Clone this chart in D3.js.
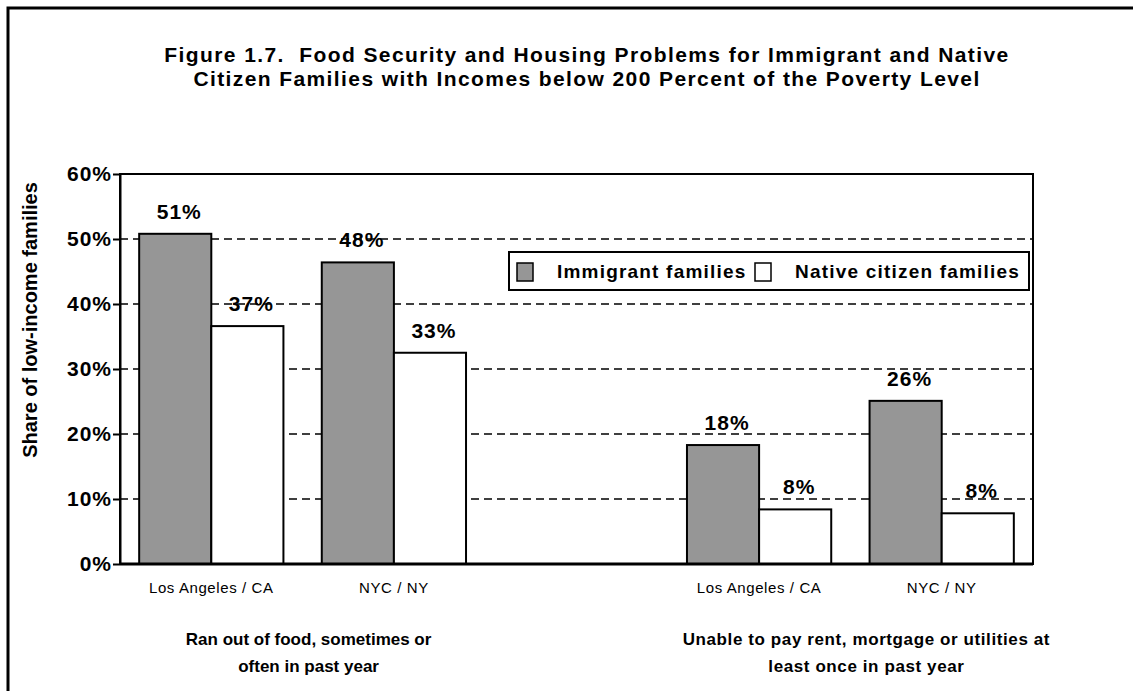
<!DOCTYPE html>
<html>
<head>
<meta charset="utf-8">
<script src="https://cdn.jsdelivr.net/npm/d3@7"></script>
<style>
  body { margin: 0; background: #fff; }
  text { font-family: Arial, "Liberation Sans", sans-serif; fill: #000; }
</style>
</head>
<body>
<svg width="1133" height="691"></svg>
<script>
// data
const cities = ["Los Angeles / CA", "NYC / NY", "", "Los Angeles / CA", "NYC / NY"]
const immigrant = [50.8, 46.4, null, 18.3, 25.1]
const native = [36.6, 32.5, null, 8.4, 7.8]
const immigrantLabels = ["51%", "48%", null, "18%", "26%"]
const nativeLabels = ["37%", "33%", null, "8%", "8%"]
const problems = [
  ["Ran out of food, sometimes or", "often in past year"],
  ["Unable to pay rent, mortgage or utilities at", "least once in past year"]
]
const series = ["Immigrant families", "Native citizen families"]
const colors = ["#969696", "#ffffff"]
const yTicks = [0, 10, 20, 30, 40, 50, 60]
const title = [
  "Figure 1.7.  Food Security and Housing Problems for Immigrant and Native",
  "Citizen Families with Incomes below 200 Percent of the Poverty Level"
]

const svg = d3.select("svg")

const plot = { left: 120, right: 1033, top: 174, bottom: 564 }

// outer frame (only top + left visible)
svg.append("rect")
  .attr("x", 8).attr("y", 8)
  .attr("width", 1200).attr("height", 800)
  .attr("fill", "none")
  .attr("stroke", "#000")
  .attr("stroke-width", 3)

svg.append("g")
  .selectAll("text")
  .data(title)
  .enter()
  .append("text")
  .attr("x", 587)
  .attr("y", (d, i) => 62 + i * 24)
  .attr("text-anchor", "middle")
  .attr("font-weight", "bold")
  .attr("font-size", 21)
  .attr("letter-spacing", 1.4)
  .style("white-space", "pre")
  .text(d => d)

const scaleX = d3.scaleBand()
  .domain(d3.range(cities.length))
  .range([plot.left, plot.right])
  .paddingInner(0.21)
  .paddingOuter(0.105)

const scaleSub = d3.scaleBand()
  .domain([0, 1])
  .range([0, scaleX.bandwidth()])

const scaleY = d3.scaleLinear()
  .domain([0, 60])
  .range([plot.bottom, plot.top])

// dashed grid
svg.append("g")
  .selectAll("line")
  .data(yTicks.filter(t => t > 0 && t < 60))
  .enter()
  .append("line")
  .attr("x1", plot.left).attr("x2", plot.right)
  .attr("y1", d => scaleY(d)).attr("y2", d => scaleY(d))
  .attr("stroke", "#000")
  .attr("stroke-width", 1.5)
  .attr("stroke-dasharray", "8,5")

// plot frame
svg.append("rect")
  .attr("x", plot.left).attr("y", plot.top)
  .attr("width", plot.right - plot.left)
  .attr("height", plot.bottom - plot.top)
  .attr("fill", "none")
  .attr("stroke", "#000")
  .attr("stroke-width", 2)

// y axis
const axisY = d3.axisLeft(scaleY)
  .tickValues(yTicks)
  .tickSizeInner(7)
  .tickSizeOuter(0)
  .tickPadding(1)
  .tickFormat(d => d + "%")

const axisYGroup = svg.append("g")
  .attr("transform", `translate(${plot.left}, 0)`)
  .call(axisY)

axisYGroup.select(".domain").attr("stroke-width", 2)
axisYGroup.selectAll(".tick line").attr("stroke-width", 2)
axisYGroup.selectAll(".tick text")
  .attr("font-size", 21)
  .attr("font-weight", "bold")
  .attr("letter-spacing", 1)
  .attr("font-family", "Arial, 'Liberation Sans', sans-serif")

svg.append("text")
  .attr("transform", "translate(37, 320) rotate(-90)")
  .attr("text-anchor", "middle")
  .attr("font-weight", "bold")
  .attr("font-size", 20)
  .text("Share of low-income families")

// bars
const rows = cities.map((c, i) => ({ i, c, vals: [immigrant[i], native[i]], labels: [immigrantLabels[i], nativeLabels[i]] }))
  .filter(d => d.c !== "")

const groups = svg.selectAll("g.city")
  .data(rows)
  .enter()
  .append("g")
  .attr("class", "city")
  .attr("transform", d => `translate(${scaleX(d.i)}, 0)`)

groups.selectAll("rect")
  .data(d => d.vals)
  .enter()
  .append("rect")
  .attr("x", (d, j) => scaleSub(j))
  .attr("y", d => scaleY(d))
  .attr("width", scaleSub.bandwidth())
  .attr("height", d => scaleY(0) - scaleY(d))
  .attr("fill", (d, j) => colors[j])
  .attr("stroke", "#000")
  .attr("stroke-width", 2)

groups.selectAll("text.val")
  .data(d => d.vals.map((v, j) => ({ v, j, label: d.labels[j] })))
  .enter()
  .append("text")
  .attr("class", "val")
  .attr("x", d => scaleSub(d.j) + scaleSub.bandwidth() / 2 + 4)
  .attr("y", d => scaleY(d.v) - 15)
  .attr("text-anchor", "middle")
  .attr("font-weight", "bold")
  .attr("font-size", 21)
  .attr("letter-spacing", 1)
  .text(d => d.label)

// bottom axis line
svg.append("line")
  .attr("x1", plot.left).attr("x2", plot.right)
  .attr("y1", plot.bottom).attr("y2", plot.bottom)
  .attr("stroke", "#000")
  .attr("stroke-width", 3)

// category labels
svg.append("g")
  .selectAll("text")
  .data(rows)
  .enter()
  .append("text")
  .attr("x", d => scaleX(d.i) + scaleX.bandwidth() / 2)
  .attr("y", 593)
  .attr("text-anchor", "middle")
  .attr("font-size", 15)
  .attr("letter-spacing", 0.6)
  .text(d => d.c)

// problem labels
const problemCenters = [
  (scaleX(0) + scaleX(1) + scaleX.bandwidth()) / 2 + 6,
  (scaleX(3) + scaleX(4) + scaleX.bandwidth()) / 2 + 16
]
problems.forEach((lines, k) => {
  svg.append("g")
    .selectAll("text")
    .data(lines)
    .enter()
    .append("text")
    .attr("x", problemCenters[k])
    .attr("y", (d, i) => 645 + i * 27)
    .attr("text-anchor", "middle")
    .attr("font-weight", "bold")
    .attr("font-size", 17)
    .attr("letter-spacing", k === 0 ? 0 : 0.6)
    .text(d => d)
})

// legend
const legend = svg.append("g").attr("transform", "translate(509, 252)")
legend.append("rect")
  .attr("width", 520).attr("height", 38)
  .attr("fill", "#fff")
  .attr("stroke", "#000")
  .attr("stroke-width", 2)

const legendX = [8, 246]
const legendItems = legend.selectAll("g.item")
  .data(series)
  .enter()
  .append("g")
  .attr("class", "item")
  .attr("transform", (d, i) => `translate(${legendX[i]}, 0)`)

legendItems.append("rect")
  .attr("x", 0).attr("y", 11)
  .attr("width", 16).attr("height", 18)
  .attr("fill", (d, i) => colors[i])
  .attr("stroke", "#000")
  .attr("stroke-width", 1.5)

legendItems.append("text")
  .attr("x", 40).attr("y", 26)
  .attr("font-weight", "bold")
  .attr("font-size", 19)
  .attr("letter-spacing", 1.2)
  .text(d => d)
</script>
</body>
</html>
